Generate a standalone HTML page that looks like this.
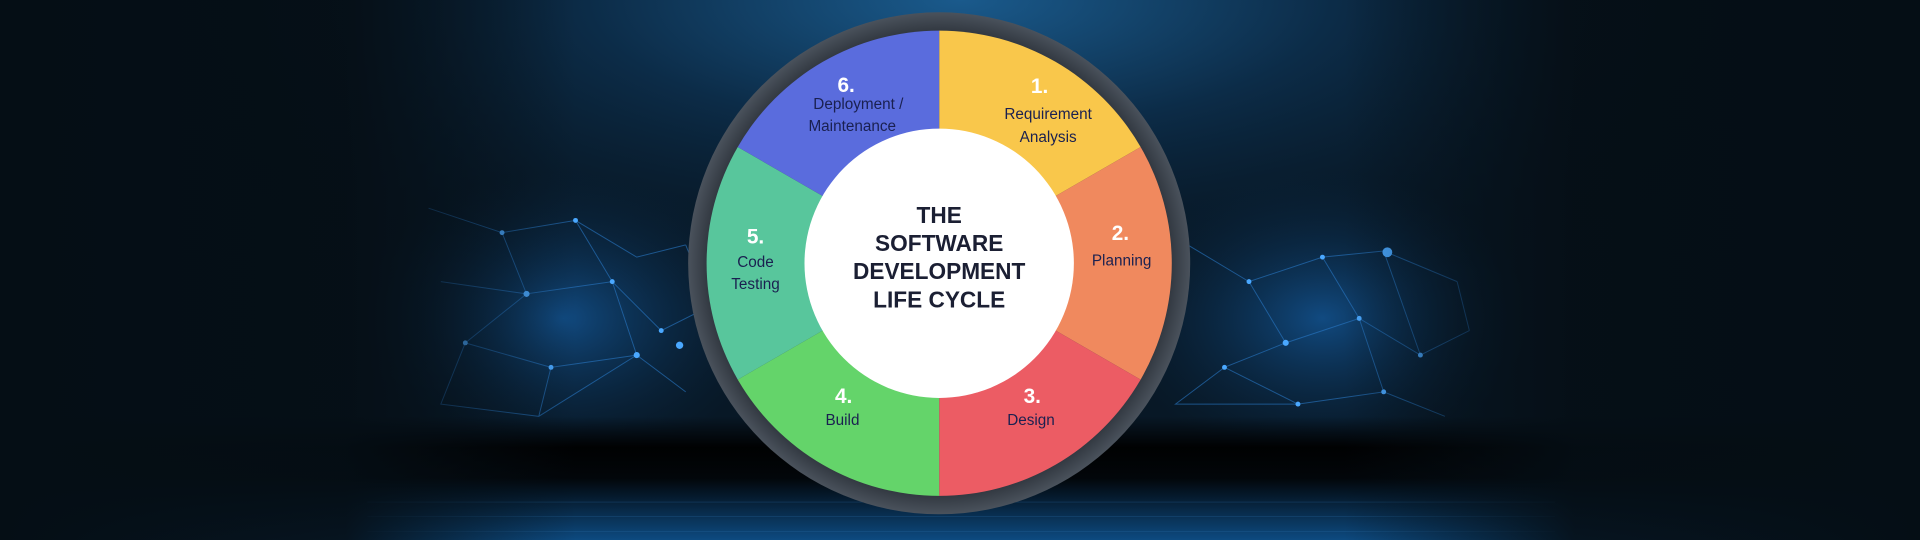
<!DOCTYPE html>
<html><head><meta charset="utf-8"><style>
html,body{margin:0;padding:0;background:#050d14;}
svg{display:block}
text{font-family:"Liberation Sans",sans-serif}
</style></head><body>
<svg width="1920" height="540" viewBox="0 0 1568 441" preserveAspectRatio="none" xmlns="http://www.w3.org/2000/svg">
<defs>
<radialGradient id="spot" cx="0.5" cy="0.0" r="0.6">
<stop offset="0" stop-color="#1a5a8c"/>
<stop offset="0.4" stop-color="#0c2c48"/>
<stop offset="1" stop-color="#06121c" stop-opacity="0"/>
</radialGradient>
<radialGradient id="glowL" cx="0.5" cy="0.5" r="0.5">
<stop offset="0" stop-color="#1560a8" stop-opacity="0.7"/>
<stop offset="1" stop-color="#0a2a48" stop-opacity="0"/>
</radialGradient>
<linearGradient id="floor" x1="0" y1="0" x2="0" y2="1">
<stop offset="0" stop-color="#000" stop-opacity="0"/>
<stop offset="0.25" stop-color="#000" stop-opacity="0.95"/>
<stop offset="0.5" stop-color="#02060a"/>
<stop offset="1" stop-color="#0d4a80"/>
</linearGradient>
<linearGradient id="sides" x1="0" y1="0" x2="1" y2="0">
<stop offset="0" stop-color="#050e15" stop-opacity="1"/>
<stop offset="0.18" stop-color="#050e15" stop-opacity="0.9"/>
<stop offset="0.3" stop-color="#050e15" stop-opacity="0"/>
<stop offset="0.7" stop-color="#050e15" stop-opacity="0"/>
<stop offset="0.82" stop-color="#050e15" stop-opacity="0.9"/>
<stop offset="1" stop-color="#050e15" stop-opacity="1"/>
</linearGradient>
<radialGradient id="ring" cx="0.5" cy="0.5" r="0.5">
<stop offset="0.9" stop-color="#2a3038"/>
<stop offset="1" stop-color="#4a525c"/>
</radialGradient>
</defs>
<rect width="1568" height="441" fill="#081826"/>
<rect x="150" width="1268" height="441" fill="url(#spot)"/>
<ellipse cx="460" cy="260" rx="170" ry="120" fill="url(#glowL)"/>
<ellipse cx="1080" cy="260" rx="170" ry="120" fill="url(#glowL)"/>
<g stroke="#2a7ac8" stroke-width="0.8" opacity="0.6" fill="none">
<path d="M350 170 L410 190 L470 180 L520 210 L560 200 M410 190 L430 240 L500 230 L540 270 L580 250 M430 240 L380 280 L450 300 L520 290 L560 320 M470 180 L500 230 M380 280 L360 330 L440 340 L520 290 M450 300 L440 340 M500 230 L520 290 M360 230 L430 240 M560 200 L580 250"/>
<path d="M970 200 L1020 230 L1080 210 L1130 205 L1190 230 M1020 230 L1050 280 L1110 260 L1160 290 L1200 270 M1050 280 L1000 300 L1060 330 L1130 320 L1180 340 M1080 210 L1110 260 M1000 300 L960 330 L1060 330 M1130 205 L1160 290 M1110 260 L1130 320 M1190 230 L1200 270"/>
</g>
<g fill="#4aa8ff">
<circle cx="410" cy="190" r="2"/><circle cx="470" cy="180" r="2"/><circle cx="430" cy="240" r="2.5"/><circle cx="500" cy="230" r="2"/><circle cx="540" cy="270" r="2"/><circle cx="450" cy="300" r="2"/><circle cx="520" cy="290" r="2.5"/><circle cx="380" cy="280" r="2"/><circle cx="555" cy="282" r="3"/>
<circle cx="1020" cy="230" r="2"/><circle cx="1080" cy="210" r="2"/><circle cx="1133" cy="206" r="4"/><circle cx="1110" cy="260" r="2"/><circle cx="1050" cy="280" r="2.5"/><circle cx="1160" cy="290" r="2"/><circle cx="1060" cy="330" r="2"/><circle cx="1000" cy="300" r="2"/><circle cx="1130" cy="320" r="2"/>
</g>
<rect x="0" y="340" width="1568" height="101" fill="url(#floor)"/>
<g stroke="#2a6ea8" stroke-width="0.5" opacity="0.4">
<line x1="300" y1="410" x2="1270" y2="410"/><line x1="300" y1="422" x2="1270" y2="422"/><line x1="300" y1="434" x2="1270" y2="434"/>
</g>
<rect x="0" width="1568" height="441" fill="url(#sides)"/>
<circle cx="767" cy="215" r="205" fill="url(#ring)"/>
<g transform="translate(767 215)">
<path d="M0 0 L0 -190 A190 190 0 0 1 164.5 -95 Z" fill="#F9C74B"/>
<path d="M0 0 L164.5 -95 A190 190 0 0 1 164.5 95 Z" fill="#F0895E"/>
<path d="M0 0 L164.5 95 A190 190 0 0 1 0 190 Z" fill="#EC5C64"/>
<path d="M0 0 L0 190 A190 190 0 0 1 -164.5 95 Z" fill="#64D46A"/>
<path d="M0 0 L-164.5 95 A190 190 0 0 1 -164.5 -95 Z" fill="#58C69C"/>
<path d="M0 0 L-164.5 -95 A190 190 0 0 1 0 -190 Z" fill="#5A6CDD"/>
<circle r="110" fill="#fff"/>
</g>
<g text-anchor="middle" font-weight="bold" fill="#1b1f33" font-size="18.5">
<text x="767" y="182">THE</text><text x="767" y="205">SOFTWARE</text><text x="767" y="228">DEVELOPMENT</text><text x="767" y="251">LIFE CYCLE</text>
</g>
<g text-anchor="middle" font-weight="bold" fill="#fff" font-size="17">
<text x="849" y="76">1.</text><text x="915" y="196">2.</text><text x="843" y="329">3.</text><text x="689" y="329">4.</text><text x="617" y="199">5.</text><text x="691" y="75">6.</text>
</g>
<g text-anchor="middle" fill="#1a2050" font-size="12.5">
<text x="856" y="97">Requirement</text><text x="856" y="116">Analysis</text>
<text x="916" y="217">Planning</text>
<text x="842" y="347">Design</text>
<text x="688" y="347">Build</text>
<text x="617" y="218">Code</text><text x="617" y="236">Testing</text>
<text x="701" y="89">Deployment /</text><text x="696" y="107">Maintenance</text>
</g>
</svg>
</body></html>
